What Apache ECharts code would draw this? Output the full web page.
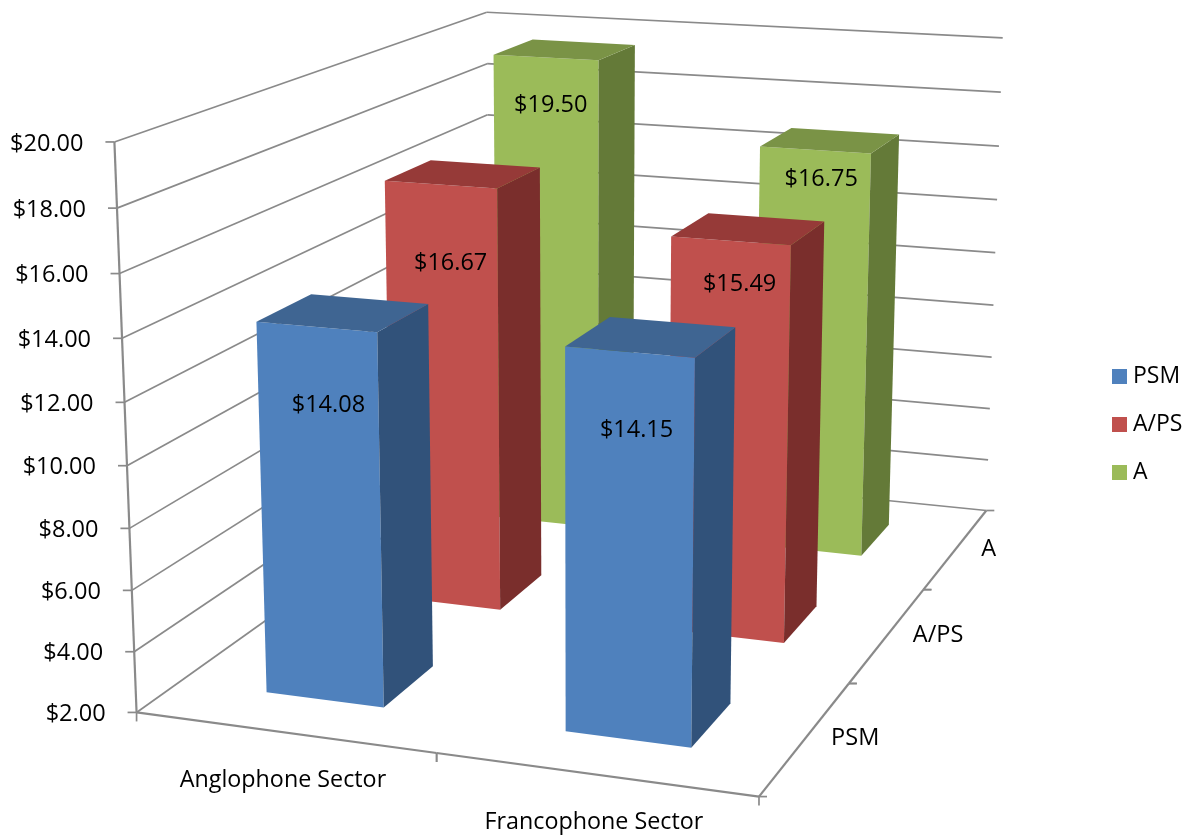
<!DOCTYPE html>
<html>
<head>
<meta charset="utf-8">
<style>html,body{margin:0;padding:0;background:#fff}#chart{width:1193px;height:838px}</style>
<script src="https://cdn.jsdelivr.net/npm/echarts@6/dist/echarts.min.js"></script>
</head>
<body>
<div id="chart"></div>
<script>
var sectors = ['Anglophone Sector', 'Francophone Sector'];
var levels = ['PSM', 'A/PS', 'A'];
var psmValues = [14.08, 14.15];
var apsValues = [16.67, 15.49];
var aValues = [19.50, 16.75];
var valueTicks = [2, 4, 6, 8, 10, 12, 14, 16, 18, 20];

// where the corners of the chart box land on screen: [x, y, z, screenX, screenY]
var boxCorners = [
	[0, 0, 0, 136, 712], [1, 0, 0, 759, 797], [1, 0, 1, 986, 510], [0, 0, 1, 491, 461],
	[0, 1, 0, 115, 142], [0, 1, 1, 486, 12], [1, 1, 1, 1003, 38]
];
// data label shift from the top of the front face, per level then sector
var labelShift = [
	[[12, 78], [7, 78]],
	[[10, 79], [9, 44]],
	[[5, 48], [6, 29]]
];
var barColors = [
	{front: '#4f81bd', top: '#3f6592', side: '#31527a'},
	{front: '#c0504d', top: '#963a38', side: '#7a2e2c'},
	{front: '#9bbb59', top: '#7a9346', side: '#647a38'}
];
var barShare = 0.4;
var lineColor = '#8a8a8a';
var fontName = 'Open Sans';

// least squares fit of the 3x4 projection from the corners
function fitProjection(pts) {
	var n = 11, ata = [], i, j, k;
	for (i = 0; i < n; i++) { ata.push([]); for (j = 0; j <= n; j++) ata[i][j] = 0; }
	function addRow(r, b) {
		for (var a = 0; a < n; a++) {
			for (var c = 0; c < n; c++) ata[a][c] += r[a] * r[c];
			ata[a][n] += r[a] * b;
		}
	}
	pts.forEach(function (p) {
		var u = p[3] / 1000, v = p[4] / 1000;
		addRow([p[0], p[1], p[2], 1, 0, 0, 0, 0, -u * p[0], -u * p[1], -u * p[2]], u);
		addRow([0, 0, 0, 0, p[0], p[1], p[2], 1, -v * p[0], -v * p[1], -v * p[2]], v);
	});
	for (i = 0; i < n; i++) {
		var best = i;
		for (j = i + 1; j < n; j++) if (Math.abs(ata[j][i]) > Math.abs(ata[best][i])) best = j;
		var tmp = ata[i]; ata[i] = ata[best]; ata[best] = tmp;
		for (j = 0; j < n; j++) {
			if (j === i) continue;
			var f = ata[j][i] / ata[i][i];
			for (k = i; k <= n; k++) ata[j][k] -= f * ata[i][k];
		}
	}
	var m = [];
	for (i = 0; i < n; i++) m.push(ata[i][n] / ata[i][i]);
	return m;
}
var proj = fitProjection(boxCorners);

function project(x, y, z) {
	var w = proj[8] * x + proj[9] * y + proj[10] * z + 1;
	return [
		1000 * (proj[0] * x + proj[1] * y + proj[2] * z + proj[3]) / w,
		1000 * (proj[4] * x + proj[5] * y + proj[6] * z + proj[7]) / w
	];
}

// value -> 0..1 height through the hidden value axis
function heightOf(api, params, value) {
	var sys = params.coordSys;
	return 1 - (api.coord([0, value])[1] - sys.y) / sys.height;
}

function seg(a, b, width) {
	return {type: 'line', shape: {x1: a[0], y1: a[1], x2: b[0], y2: b[1]},
		style: {stroke: lineColor, lineWidth: width || 1.7}, silent: true};
}
function txt(s, x, y, align, size) {
	return {type: 'text', silent: true, style: {text: s, x: x, y: y, align: align || 'center',
		verticalAlign: 'middle', fill: '#000', font: (size || 23.5) + 'px "' + fontName + '"'}};
}

function renderWalls(params, api) {
	var v = api.value(1), h = heightOf(api, params, v);
	var a = project(0, h, 0), b = project(0, h, 1), c = project(1, h, 1);
	var kids = [
		seg(a, b), seg(b, c),
		seg([a[0] - 9, a[1]], a),
		txt('$' + v.toFixed(2), a[0] - 31, a[1] + 2, 'right')
	];
	if (v === valueTicks[valueTicks.length - 1]) {
		kids.push(seg(project(0, 0, 0), a, 2.2));
	}
	return {type: 'group', children: kids};
}

function renderSectorAxis(params, api) {
	var i = api.value(0), sys = params.coordSys;
	var mid = (api.coord([i, 2])[0] - sys.x) / sys.width;
	var band = api.size([1, 0])[0] / sys.width;
	var from = project(mid - band / 2, 0, 0), to = project(mid + band / 2, 0, 0);
	var centre = project(mid, 0, 0);
	return {type: 'group', children: [
		seg(from, to, 2.2),
		seg(from, [from[0], from[1] + 9]),
		seg(to, [to[0], to[1] + 9]),
		txt(sectors[i], centre[0] - 1, centre[1] + 48, 'center', 23.3)
	]};
}

function renderLevelAxis(params, api) {
	var i = params.dataIndex, n = levels.length;
	var from = project(1, 0, i / n), to = project(1, 0, (i + 1) / n);
	var centre = project(1, 0, (i + 0.5) / n);
	return {type: 'group', children: [
		seg(from, to, 2.2),
		seg(from, [from[0] + 8, from[1]]),
		seg(to, [to[0] + 8, to[1]]),
		txt(levels[i], centre[0] + 25, centre[1] + 1, 'left')
	]};
}

function barRenderer(level) {
	return function (params, api) {
		var sys = params.coordSys;
		var cat = api.value(0), val = api.value(1);
		var mid = (api.coord([cat, val])[0] - sys.x) / sys.width;
		var halfW = api.size([1, 0])[0] / sys.width * barShare / 2;
		var n = levels.length;
		var z0 = (level + 0.5) / n - barShare / n / 2, z1 = z0 + barShare / n;
		var x0 = mid - halfW, x1 = mid + halfW, h = heightOf(api, params, val);
		var col = barColors[level];
		var frontTop = project(mid, h, z0);
		var shift = labelShift[level][cat];
		function face(pts, fill) {
			return {type: 'polygon', silent: true, shape: {points: pts}, style: {fill: fill}};
		}
		return {type: 'group', children: [
			face([project(x0, 0, z0), project(x1, 0, z0), project(x1, h, z0), project(x0, h, z0)], col.front),
			face([project(x1, 0, z0), project(x1, 0, z1), project(x1, h, z1), project(x1, h, z0)], col.side),
			face([project(x0, h, z0), project(x1, h, z0), project(x1, h, z1), project(x0, h, z1)], col.top),
			txt('$' + val.toFixed(2), frontTop[0] + shift[0], frontTop[1] + shift[1])
		]};
	};
}

function barSeries(level, values) {
	return {
		name: levels[level], type: 'custom', z: 10 - level,
		coordinateSystem: 'cartesian2d',
		itemStyle: {color: barColors[level].front},
		encode: {x: 0, y: 1},
		renderItem: barRenderer(level),
		data: values.map(function (v, i) { return [i, v]; })
	};
}

var myChart = echarts.init(document.getElementById('chart'));
myChart.setOption({
	animation: false,
	backgroundColor: '#fff',
	tooltip: {show: false},
	grid: {left: 100, right: 100, top: 100, bottom: 100},
	xAxis: {type: 'category', data: sectors, show: false},
	yAxis: {type: 'value', min: 2, max: 20, interval: 2, show: false},
	legend: {
		data: levels, orient: 'vertical', left: 1112, top: 365, padding: 0,
		icon: 'rect', itemWidth: 15, itemHeight: 15, itemGap: 25,
		selectedMode: false,
		textStyle: {fontFamily: fontName, fontSize: 23, color: '#000', padding: [0, 0, 0, 1]}
	},
	series: [
		{
			type: 'custom', name: 'walls', z: 1, encode: {x: 0, y: 1},
			renderItem: renderWalls,
			data: valueTicks.map(function (v) { return [0, v]; })
		},
		{
			type: 'custom', name: 'sectorAxis', z: 1, encode: {x: 0, y: 1},
			renderItem: renderSectorAxis,
			data: sectors.map(function (s, i) { return [i, 2]; })
		},
		{
			type: 'custom', name: 'levelAxis', z: 1, encode: {x: 0, y: 1},
			renderItem: renderLevelAxis,
			data: levels.map(function (s, i) { return [0, 2]; })
		},
		barSeries(2, aValues),
		barSeries(1, apsValues),
		barSeries(0, psmValues)
	]
});
</script>
</body>
</html>
